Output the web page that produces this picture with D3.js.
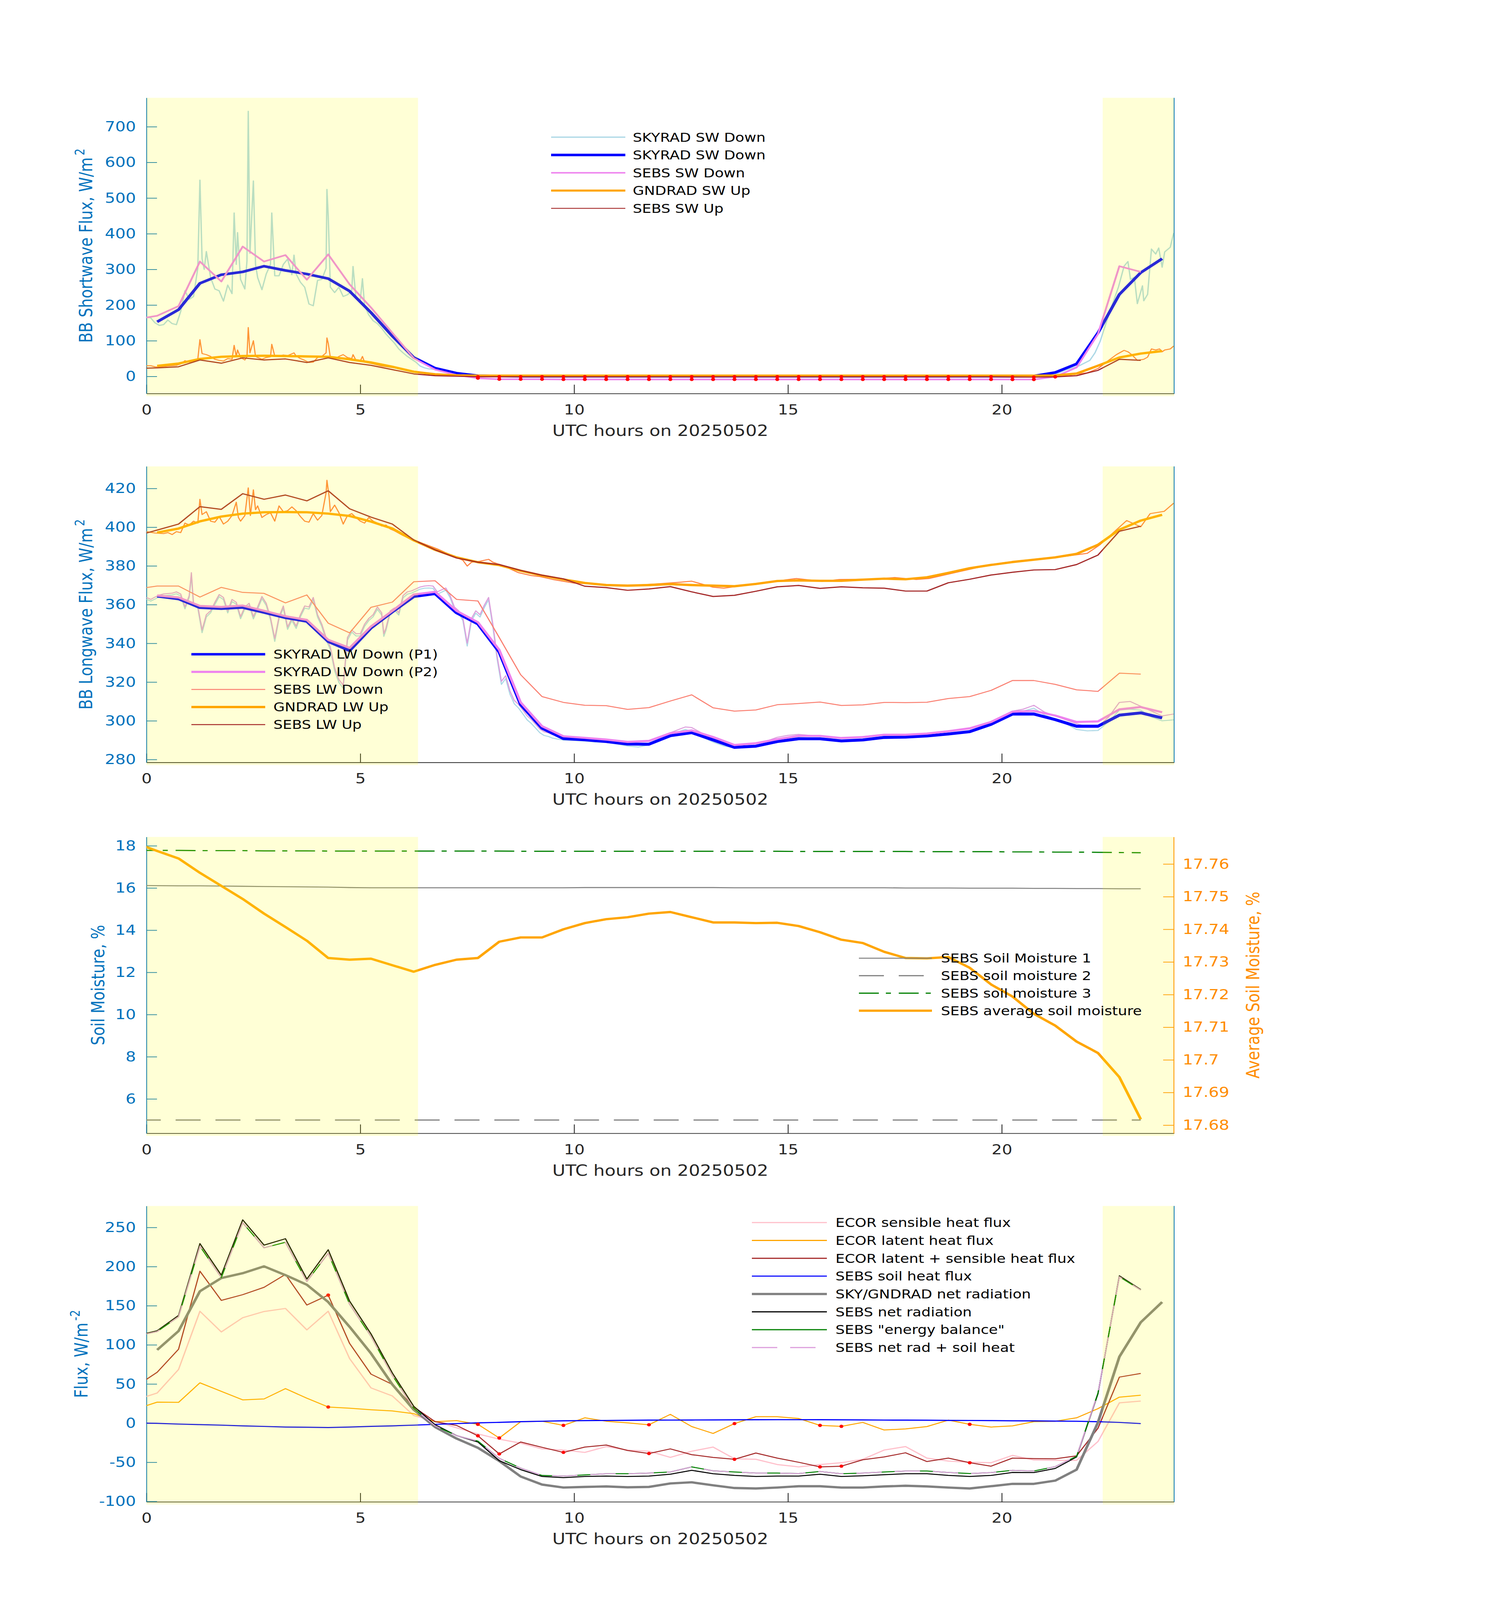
<!DOCTYPE html>
<html><head><meta charset="utf-8">
<script src="https://cdn.jsdelivr.net/npm/d3@7"></script>
<style>html,body{margin:0;padding:0;background:#fff;overflow:hidden}svg{display:block;width:100vw;height:100vh}</style>
</head><body>
<svg id="chart" viewBox="0 0 3825 4875" preserveAspectRatio="none"></svg>
<script>
// ---------------- DATA ----------------
const sebsTimes = d3.range(48).map(i => -0.25 + 0.5 * i);   // SEBS / ECOR half-hour stamps
const radTimes  = d3.range(48).map(i =>  0.25 + 0.5 * i);   // SKYRAD / GNDRAD half-hour averages
const xTicks = [0, 5, 10, 15, 20];
const dayShade = [[0, 6.35], [22.36, 24.03]];

// Panel 1 : shortwave
const skySwRaw = [[0,166],[0.1,164],[0.2,150],[0.3,143],[0.4,145],[0.5,158],[0.6,148],[0.7,145],[0.8,182],[0.9,240],[1.0,216],[1.1,224],[1.2,303],[1.25,550],[1.3,330],[1.35,300],[1.4,350],[1.5,277],[1.6,245],[1.7,240],[1.8,211],[1.9,256],[2.0,232],[2.05,458],[2.1,314],[2.13,403],[2.2,272],[2.3,245],[2.35,324],[2.38,743],[2.42,345],[2.5,548],[2.55,314],[2.6,277],[2.7,243],[2.8,287],[2.9,314],[2.93,458],[3.0,282],[3.1,282],[3.2,314],[3.3,329],[3.4,285],[3.45,340],[3.5,287],[3.6,264],[3.7,250],[3.8,203],[3.9,198],[4.0,269],[4.1,272],[4.2,303],[4.22,524],[4.25,450],[4.3,250],[4.4,235],[4.5,250],[4.6,224],[4.7,229],[4.8,240],[4.83,308],[4.9,219],[5.0,214],[5.05,274],[5.1,198],[5.2,172],[5.3,156],[5.4,148],[5.5,135],[5.6,119],[5.7,106],[5.8,93],[5.9,77],[6.0,66],[6.1,56],[6.2,48],[6.3,40],[6.4,29],[6.5,24],[6.6,21],[6.7,20],[6.8,19],[7.0,12],[7.5,4],[8.0,1],[12,0.5],[20.5,0.5],[21.0,3],[21.3,8],[21.5,18],[21.8,29],[22.06,45],[22.18,66],[22.3,98],[22.5,172],[22.73,251],[22.86,309],[22.95,322],[23.01,272],[23.1,278],[23.17,204],[23.29,254],[23.32,212],[23.41,230],[23.5,357],[23.6,343],[23.67,360],[23.75,306],[23.81,349],[23.94,362],[24.02,402]];
const gndSwRaw = [[0,30],[0.1,30],[0.2,27],[0.3,26],[0.5,29],[0.7,31],[0.8,35],[0.9,44],[1.0,40],[1.1,43],[1.2,48],[1.25,103],[1.3,64],[1.4,61],[1.5,56],[1.6,48],[1.7,45],[1.8,43],[1.9,50],[2.0,48],[2.05,87],[2.1,56],[2.13,74],[2.2,53],[2.3,46],[2.35,55],[2.38,137],[2.42,66],[2.5,100],[2.55,56],[2.6,53],[2.7,48],[2.8,53],[2.9,55],[2.93,90],[3.0,57],[3.1,56],[3.2,60],[3.3,58],[3.45,66],[3.5,57],[3.6,50],[3.7,45],[3.8,39],[3.9,40],[4.0,53],[4.1,56],[4.2,66],[4.22,108],[4.25,93],[4.3,53],[4.4,48],[4.5,56],[4.6,61],[4.7,53],[4.8,50],[4.83,61],[4.9,45],[5.0,43],[5.05,56],[5.1,40],[5.3,35],[5.5,29],[5.8,24],[6.0,19],[6.3,14],[6.6,8],[7.0,4],[7.5,2],[8.0,1],[12,1],[20.5,1],[21.5,3],[22.0,10],[22.25,22],[22.5,45],[22.68,61],[22.86,73],[22.95,69],[23.04,61],[23.17,45],[23.32,48],[23.41,54],[23.5,77],[23.6,74],[23.69,77],[23.75,69],[23.81,74],[23.94,77],[24.02,85]];
const skySwDown = [153,187,261,285,293,309,297,287,274,239,179,113,
  53,23,9,2,1,0.5,0.5,0.5,0.5,0.5,0.5,0.5,
  0.5,0.5,0.5,0.5,0.5,0.5,0.5,0.5,0.5,0.5,0.5,0.5,
  0.5,0.5,0.5,0.5,0.5,1,11,35,122,230,291,330];
const sebsSwDown = [160,170,197,322,266,364,322,340,271,342,258,193,
  122,51,19,4,-5,-8,-8,-8,-8.5,-8.5,-8.5,-8.5,
  -8.5,-8.5,-8.5,-8.5,-8.5,-8.5,-8.5,-8.5,-8.5,-8.5,-8.5,-8.5,
  -8.5,-8.5,-8.5,-8.5,-8.5,-8.7,-8.7,-1,25,119,309,293];
const gndSwUp = [29.5,36,49,55,57,58,57,56,55,48,39,27,
  13,6,3,2,2,2,2,2,2,2,2,2,
  2,2,2,2,2,2,2,2,2,2,2,2,
  2,2,2,2,2,2,2.6,8,30,53,64,71];
const sebsSwUp = [22,24,27,46,37,52,46,49,39,52,39,31,
  19,7,2,0.5,-1,-1,-1,-1,-1,-1,-1,-1,
  -1,-1,-1,-1,-1,-1,-1,-1,-1,-1,-1,-1,
  -1,-1,-1,-1,-1,-1.5,-2,-1.3,2,17,48,45];

// Panel 2 : longwave
const lwRawP2 = [[0,363.7],[0.1,362.7],[0.2,363.9],[0.3,364.9],[0.4,365.5],[0.5,365.7],[0.6,365.9],[0.7,366.6],[0.8,365.5],[0.9,358.8],[1.0,364.7],[1.05,376.5],[1.1,360.7],[1.2,359.3],[1.3,346.9],[1.4,354.8],[1.5,356.8],[1.6,361.2],[1.7,365.2],[1.8,363.7],[1.9,356.8],[2.0,362.7],[2.1,361.2],[2.2,353.8],[2.3,358.8],[2.4,360.7],[2.5,353.8],[2.6,358.8],[2.7,364.2],[2.8,360.7],[2.9,353.3],[3.0,342.5],[3.1,353.8],[3.2,359.3],[3.3,348.4],[3.4,352.9],[3.5,348.9],[3.6,354.8],[3.7,359.3],[3.8,358.8],[3.9,363.7],[4.0,354.8],[4.1,349.9],[4.2,343.0],[4.3,338.1],[4.4,327.3],[4.5,321.3],[4.6,318.4],[4.7,343.0],[4.8,346.9],[4.9,345.0],[5.0,345.0],[5.1,349.9],[5.2,352.9],[5.3,354.8],[5.4,358.8],[5.5,355.8],[5.55,345.0],[5.6,347.9],[5.7,356.8],[5.8,358.3],[5.9,355.8],[6.0,364.7],[6.1,366.6],[6.2,367.1],[6.3,368.1],[6.4,369.1],[6.5,369.6],[6.6,369.8],[6.7,369.6],[6.8,366.6],[6.9,367.6],[7.0,368.6],[7.1,364.7],[7.2,358.8],[7.3,356.8],[7.4,352.9],[7.5,340.1],[7.6,352.9],[7.7,356.8],[7.8,354.8],[7.9,359.7],[8.0,363.7],[8.1,349.9],[8.2,333.2],[8.3,320.4],[8.4,323.3],[8.5,315.4],[8.6,310.5],[8.7,308.5],[8.8,305.6],[8.9,302.6],[9.0,300.7],[9.1,298.2],[9.2,295.7],[9.3,294.3],[9.4,293.8],[9.5,292.8],[9.75,292.0],[10.0,291.2],[10.25,290.8],[10.5,290.5],[10.75,290.2],[11.0,289.5],[11.25,289.0],[11.5,289.5],[11.75,289.8],[12.0,291.5],[12.25,293.8],[12.5,296.0],[12.6,296.8],[12.75,296.5],[13.0,293.5],[13.25,291.0],[13.5,288.8],[13.75,287.5],[14.0,288.0],[14.25,288.5],[14.5,289.5],[14.75,291.5],[15.0,292.5],[15.25,293.0],[15.5,292.5],[15.75,292.0],[16.0,291.2],[16.25,291.0],[16.5,291.3],[16.75,291.8],[17.0,292.4],[17.25,292.9],[17.5,293.0],[17.75,293.0],[18.0,293.2],[18.25,293.6],[18.5,294.2],[18.75,294.8],[19.0,295.3],[19.25,296.0],[19.5,297.5],[19.75,299.5],[20.0,302.0],[20.25,305.0],[20.5,306.0],[20.75,308.0],[21.0,304.5],[21.25,302.5],[21.5,300.5],[21.75,298.5],[22.0,297.0],[22.25,297.0],[22.5,302.0],[22.75,309.5],[23.0,310.0],[23.25,307.5],[23.5,305.0],[23.75,302.5],[24.02,303.5]];
const lwRawP1 = [[0,362.8],[0.1,361.8],[0.2,362.9],[0.3,364.0],[0.4,364.5],[0.5,364.8],[0.6,365.0],[0.7,365.6],[0.8,364.5],[0.9,357.8],[1.0,363.7],[1.05,375.0],[1.1,359.6],[1.2,358.2],[1.3,345.5],[1.4,353.6],[1.5,355.8],[1.6,360.1],[1.7,364.1],[1.8,362.6],[1.9,355.7],[2.0,361.6],[2.1,360.2],[2.2,352.7],[2.3,357.8],[2.4,359.6],[2.5,352.6],[2.6,357.7],[2.7,363.1],[2.8,359.6],[2.9,352.2],[3.0,341.0],[3.1,352.7],[3.2,358.2],[3.3,347.2],[3.4,351.8],[3.5,347.7],[3.6,353.7],[3.7,358.2],[3.8,357.7],[3.9,362.6],[4.0,353.6],[4.1,348.7],[4.2,341.8],[4.3,336.8],[4.4,325.8],[4.5,319.8],[4.6,316.8],[4.7,341.6],[4.8,345.8],[4.9,343.8],[5.0,343.9],[5.1,348.8],[5.2,351.8],[5.3,353.7],[5.4,357.6],[5.5,354.6],[5.55,343.6],[5.6,346.7],[5.7,355.6],[5.8,357.2],[5.9,354.6],[6.0,363.5],[6.1,365.4],[6.2,366.0],[6.3,367.0],[6.4,368.0],[6.5,368.5],[6.6,368.6],[6.7,368.4],[6.8,365.4],[6.9,366.4],[7.0,367.5],[7.1,363.6],[7.2,357.6],[7.3,355.6],[7.4,351.7],[7.5,338.6],[7.6,351.6],[7.7,355.6],[7.8,353.6],[7.9,358.5],[8.0,362.5],[8.1,348.6],[8.2,331.8],[8.3,318.8],[8.4,321.8],[8.5,313.7],[8.6,308.8],[8.7,306.6],[8.8,303.6],[8.9,300.5],[9.0,298.6],[9.1,296.2],[9.2,293.8],[9.3,292.4],[9.4,291.9],[9.5,291.0],[9.75,290.0],[10.0,289.8],[10.25,289.5],[10.5,289.0],[10.75,288.8],[11.0,288.0],[11.25,287.0],[11.5,286.5],[11.75,287.5],[12.0,290.0],[12.25,292.5],[12.5,294.8],[12.6,295.5],[12.75,294.5],[13.0,291.5],[13.25,289.0],[13.5,287.0],[13.75,286.0],[14.0,286.5],[14.25,287.0],[14.5,288.3],[14.75,290.0],[15.0,291.0],[15.25,291.5],[15.5,291.0],[15.75,290.5],[16.0,289.8],[16.25,289.5],[16.5,289.8],[16.75,290.3],[17.0,291.0],[17.25,291.6],[17.5,291.8],[17.75,291.6],[18.0,291.8],[18.25,292.3],[18.5,292.8],[18.75,293.3],[19.0,294.0],[19.25,294.6],[19.5,296.0],[19.75,298.0],[20.0,300.5],[20.25,303.5],[20.5,305.0],[20.75,306.5],[21.0,303.0],[21.25,301.0],[21.5,298.5],[21.75,295.5],[22.0,294.8],[22.25,295.0],[22.5,299.5],[22.75,305.5],[23.0,306.0],[23.25,305.5],[23.5,302.0],[23.75,300.0],[24.02,300.5]];
const gndLwRaw = [[0,397.7],[0.2,397.0],[0.4,396.7],[0.5,397.2],[0.6,396.2],[0.7,397.7],[0.8,397.2],[0.9,402.1],[1.0,401.1],[1.1,403.1],[1.2,402.1],[1.25,414.4],[1.3,406.5],[1.4,408.0],[1.5,403.1],[1.6,402.6],[1.7,405.5],[1.8,401.6],[1.9,403.1],[2.0,406.0],[2.1,412.9],[2.15,405.0],[2.2,403.1],[2.3,406.0],[2.38,420.3],[2.43,406.0],[2.5,419.3],[2.55,409.0],[2.6,411.0],[2.7,405.0],[2.8,406.5],[2.9,407.5],[3.0,403.1],[3.1,411.0],[3.2,408.0],[3.3,408.5],[3.4,410.5],[3.5,408.5],[3.6,405.5],[3.7,403.1],[3.8,402.6],[3.9,407.0],[4.0,403.6],[4.1,406.0],[4.2,417.8],[4.22,424.2],[4.27,415.9],[4.3,408.0],[4.4,411.4],[4.5,407.5],[4.6,401.6],[4.7,406.0],[4.8,407.0],[4.9,405.0],[5.0,403.1],[5.1,402.1],[5.2,405.0],[5.3,403.1],[5.4,402.1],[5.5,400.6],[5.6,401.1],[5.7,399.1],[5.8,398.1],[6.0,395.7],[6.2,393.7],[6.5,391.3],[6.8,388.8],[7.0,386.8],[7.2,384.9],[7.4,382.9],[7.5,379.9],[7.6,381.9],[7.8,382.4],[8.0,383.4],[8.1,381.9],[8.3,380.4],[8.5,378.5],[8.7,376.5],[9.0,375.0],[9.2,374.5],[9.5,373.0],[10.0,371.1],[10.5,370.6],[11.0,369.8],[11.5,370.1],[12.0,370.8],[12.5,371.6],[12.75,372.1],[13.25,369.0],[13.5,368.5],[14.0,370.0],[14.5,371.5],[15.2,373.5],[15.8,372.0],[16.2,373.0],[17.0,373.2],[17.5,374.0],[18.0,373.0],[18.3,373.5],[19.0,377.0],[19.5,379.5],[20.0,381.5],[20.5,382.8],[21.0,384.0],[21.5,385.0],[22.0,386.5],[22.3,391.0],[22.6,397.0],[22.92,403.4],[23.25,400.2],[23.47,407.0],[23.8,408.2],[24.02,412.4]];
const skyLwDownP1 = [364.4,363.0,358.5,358.0,358.6,356.0,353.3,351.4,341.0,336.3,348.0,356.3,
  364.2,365.7,355.8,350.1,335.6,308.5,296.2,290.8,290.2,289.3,288.0,287.9,
  292.3,293.9,290.1,286.3,286.9,289.3,290.7,290.7,289.6,290.1,291.4,291.6,
  292.2,293.2,294.4,298.2,303.5,303.5,300.6,297.2,297.2,302.9,304.1,301.5];
const skyLwDownP2 = [364.7,363.7,359.3,358.8,359.5,356.8,354.0,352.1,341.8,337.6,348.7,356.8,
  365.2,366.6,356.8,350.9,336.6,309.5,297.2,292.0,291.2,290.3,289.1,289.6,
  293.6,295.0,291.6,287.5,288.4,290.5,292.2,292.2,291.1,291.6,292.8,292.8,
  293.4,294.6,296.1,299.4,304.7,305.1,302.7,299.4,299.7,305.9,307.1,304.4];
const sebsLwDown = [368.0,369.6,369.6,363.9,368.9,366.3,365.8,360.9,365.0,350.4,345.4,358.6,
  361.3,371.8,372.3,362.7,361.9,343.0,323.8,312.5,309.5,308.0,307.8,305.9,
  306.8,310.2,313.4,306.7,305.0,305.6,308.3,308.9,309.7,307.9,308.2,309.5,
  309.4,309.6,311.5,312.5,315.7,320.8,320.8,318.8,316.0,315.2,324.6,324.1];
const gndLwUp = [397.2,399.3,403.0,405.5,407.0,407.7,407.8,407.7,407.0,405.8,402.9,399.3,
  393.2,388.3,384.4,381.9,380.4,377.5,375.0,373.0,371.2,370.1,369.8,370.1,
  370.6,370.1,369.8,369.5,370.7,372.2,372.5,372.3,372.3,372.9,373.4,373.1,
  374.1,376.4,378.8,380.5,382.0,383.2,384.4,386.2,390.9,398.7,403.4,406.4];
const sebsLwUp = [395.5,398.5,401.6,410.6,409.2,417.3,414.4,416.6,413.6,418.8,409.5,405.2,
  401.6,393.4,388.3,384.1,381.9,380.7,377.7,375.2,373.3,369.5,368.8,367.4,
  368.1,369.3,366.6,364.2,364.8,366.9,369.2,369.9,368.4,369.2,368.7,368.5,
  367.0,367.0,371.3,373.1,375.3,376.7,377.9,378.1,380.7,385.6,397.9,400.5];

// Panel 3 : soil moisture
const soilMoist1 = [16.12,16.11,16.10,16.10,16.09,16.08,16.07,16.06,16.05,16.04,16.02,16.01,
  16.01,16.01,16.01,16.01,16.01,16.01,16.01,16.01,16.01,16.02,16.02,16.02,
  16.02,16.02,16.02,16.02,16.01,16.01,16.01,16.01,16.01,16.01,16.01,16.01,
  16.00,16.00,16.00,15.99,15.99,15.99,15.98,15.98,15.97,15.97,15.96,15.96];
const soilMoist2 = [5.00,5.00,5.00,5.00,5.00,5.00,5.00,5.00,5.00,5.00,5.00,5.00,
  5.00,5.00,5.00,5.00,5.00,5.00,5.00,5.00,5.00,5.00,5.00,5.00,
  5.00,5.00,5.00,5.00,5.00,5.00,5.00,5.00,5.00,5.00,5.00,5.00,
  5.00,5.00,5.00,5.00,5.00,5.00,5.00,5.00,5.00,5.00,5.00,5.00];
const soilMoist3 = [17.78,17.78,17.78,17.77,17.77,17.77,17.76,17.76,17.76,17.75,17.75,17.75,
  17.75,17.75,17.75,17.75,17.75,17.75,17.74,17.74,17.74,17.74,17.74,17.74,
  17.74,17.74,17.74,17.74,17.74,17.74,17.74,17.73,17.73,17.73,17.73,17.73,
  17.73,17.72,17.72,17.72,17.72,17.71,17.71,17.70,17.70,17.69,17.68,17.67];
const soilMoistAvg = [17.7664,17.7640,17.7617,17.7573,17.7533,17.7493,17.7448,17.7407,17.7365,17.7312,17.7307,17.7310,
  17.7290,17.7270,17.7291,17.7307,17.7312,17.7362,17.7375,17.7375,17.7400,17.7419,17.7431,17.7437,
  17.7448,17.7453,17.7437,17.7421,17.7421,17.7419,17.7420,17.7410,17.7391,17.7368,17.7358,17.7331,
  17.7312,17.7311,17.7315,17.7282,17.7231,17.7194,17.7141,17.7105,17.7056,17.7021,17.6947,17.6818];
const avgTicks = [17.68,17.69,17.70,17.71,17.72,17.73,17.74,17.75,17.76];
const avgTickLabels = ["17.68","17.69","17.7","17.71","17.72","17.73","17.74","17.75","17.76"];

// Panel 4 : fluxes
const ecorSensible = [29.7,38.5,68.5,142.9,116.5,134.7,142.6,146.5,119.1,142.9,82.4,45.0,
  34.7,9.7,2.4,-5.9,-13.8,-20.5,-25.6,-32.9,-34.4,-37.4,-30.0,-34.4,
  -35.9,-43.8,-35.9,-30.6,-45.6,-46.2,-52.9,-55.9,-52.9,-50.6,-46.2,-34.4,
  -30.0,-44.7,-48.5,-50.0,-50.6,-41.2,-47.1,-47.6,-47.6,-23.5,25.9,28.2];
const ecorLatent = [18.0,26.8,26.5,51.5,40.6,29.7,30.9,44.1,31.8,20.6,19.1,17.1,
  15.6,12.1,1.8,3.2,-1.5,-19.0,1.8,2.4,-2.9,6.8,2.4,0.3,
  -2.1,11.2,-4.4,-13.2,-0.6,8.2,8.2,5.9,-2.9,-4.1,0.9,-8.8,
  -7.4,-4.4,3.8,-1.5,-5.0,-3.5,1.8,2.4,6.8,18.5,33.2,35.6];
const ecorSum = [46.8,65.0,94.4,194.1,156.8,164.1,173.5,190.0,150.9,163.5,101.8,62.6,
  49.4,20.6,1.8,-2.9,-16.2,-39.4,-24.1,-30.9,-37.4,-30.6,-28.0,-35.0,
  -38.8,-32.9,-40.3,-43.8,-46.2,-38.2,-44.7,-50.0,-55.9,-55.0,-46.8,-43.2,
  -37.9,-49.1,-44.7,-50.6,-55.0,-44.7,-45.3,-45.6,-41.8,-6.5,58.8,63.5];
const ecorFlagTimes = [4.25,7.75,8.25,9.75,11.75,13.75,15.75,16.25,19.25];
const sebsSoilHeat = [0.3,-0.3,-1.2,-1.9,-2.6,-3.5,-4.2,-5.0,-5.3,-5.6,-5.0,-4.1,
  -3.5,-2.6,-1.6,-0.6,0.3,1.0,1.8,2.4,3.0,3.2,3.4,3.6,
  3.8,3.9,4.0,4.1,4.2,4.3,4.4,4.4,4.3,4.2,4.1,3.9,
  3.8,3.7,3.5,3.4,3.2,3.0,2.8,2.6,2.4,1.8,0.9,-0.6];
const skyGndNetRad = [93.5,117.6,168.5,185.3,191.5,200.3,189.1,176.8,154.7,123.0,89.1,49.4,
  17.1,-5.0,-19.7,-31.5,-48.4,-68.2,-78.5,-82.3,-81.5,-80.9,-82.0,-81.5,
  -77.1,-75.6,-79.4,-82.9,-83.5,-82.3,-80.6,-80.6,-82.3,-82.3,-80.9,-80.0,
  -80.9,-82.3,-83.5,-80.6,-77.6,-77.6,-73.5,-59.4,0.9,84.7,128.8,154.7];
const sebsNetRad = [111.4,118.0,137.6,229.4,189.1,259.7,227.4,235.6,184.1,221.5,155.9,114.1,
  64.1,21.5,-2.1,-15.9,-24.1,-48.0,-59.4,-68.2,-69.7,-68.2,-67.6,-68.2,
  -67.6,-65.3,-60.3,-64.7,-66.8,-68.2,-67.6,-67.6,-65.3,-68.2,-67.3,-65.9,
  -64.7,-64.7,-66.8,-68.2,-66.8,-63.0,-63.2,-57.9,-43.2,37.6,188.2,170.6];
const sebsEnergyBal = [111.0,117.0,136.0,226.0,186.0,256.0,224.0,231.0,181.0,217.0,152.0,111.0,
  61.0,19.0,-3.5,-16.0,-23.0,-45.0,-57.5,-66.8,-67.6,-66.2,-64.7,-64.7,
  -63.8,-62.4,-55.9,-60.9,-62.4,-63.8,-63.8,-64.4,-61.8,-64.7,-63.8,-62.4,
  -61.2,-61.2,-63.0,-64.4,-63.2,-60.3,-61.2,-55.6,-42.4,38.5,187.0,170.0];
const sebsNetPlusSoil = [111.0,117.0,136.0,226.0,186.0,256.0,224.0,231.0,181.0,217.0,152.0,111.0,
  61.0,19.0,-3.5,-16.0,-23.0,-45.0,-57.5,-66.8,-67.6,-66.2,-64.7,-64.7,
  -63.8,-62.4,-55.9,-60.9,-62.4,-63.8,-63.8,-64.4,-61.8,-64.7,-63.8,-62.4,
  -61.2,-61.2,-63.0,-64.4,-63.2,-60.3,-61.2,-55.6,-42.4,38.5,187.0,170.0];

// ---------------- DRAWING ----------------
const svg = d3.select('#chart');
svg.append('rect').attr('width', 3825).attr('height', 4875).attr('fill', '#fff');
const FONT = 'DejaVu Sans, Verdana, sans-serif';
const AXBLUE = '#0072bd', AXDARK = '#262626', AXORANGE = '#ff8c00';
const X0 = 375, X1 = 3006;
const x = d3.scaleLinear().domain([0, 24.03]).range([X0, X1]);
const zip = (t, v) => t.map((d, i) => [d, v[i]]);
let clipId = 0;

function makePanel(top, bottom, yDomain, yTicks, labelMain, labelSup, labelX) {
  const y = d3.scaleLinear().domain(yDomain).range([bottom, top]);
  const g = svg.append('g');
  const id = 'clip' + (clipId++);
  svg.append('clipPath').attr('id', id).append('rect')
    .attr('x', X0).attr('y', top).attr('width', X1 - X0).attr('height', bottom - top);
  const xa = g.append('g').attr('transform', `translate(0,${bottom})`)
    .call(d3.axisBottom(x).tickValues(xTicks).tickSizeInner(-27).tickSizeOuter(0).tickPadding(34).tickFormat(d => String(d)));
  xa.select('.domain').attr('stroke', AXDARK).attr('stroke-width', 2.2);
  xa.selectAll('.tick line').attr('stroke', AXDARK).attr('stroke-width', 2.2);
  xa.selectAll('.tick text').attr('fill', AXDARK).attr('font-size', 41.7).attr('font-family', FONT);
  const ya = g.append('g').attr('transform', `translate(${X0},0)`)
    .call(d3.axisLeft(y).tickValues(yTicks).tickSizeInner(-27).tickSizeOuter(0).tickPadding(27).tickFormat(d => String(d)));
  ya.select('.domain').attr('stroke', AXBLUE).attr('stroke-width', 2.2);
  ya.selectAll('.tick line').attr('stroke', AXBLUE).attr('stroke-width', 2.2);
  ya.selectAll('.tick text').attr('fill', AXBLUE).attr('font-size', 41.7).attr('font-family', FONT);
  svg.append('text').attr('x', (X0 + X1) / 2).attr('y', bottom + 129)
    .attr('text-anchor', 'middle').attr('font-size', 45.8).attr('font-family', FONT).attr('fill', AXDARK)
    .text('UTC hours on 20250502');
  const yl = svg.append('text')
    .attr('transform', `translate(${labelX},${(top + bottom) / 2}) rotate(-90)`)
    .attr('text-anchor', 'middle').attr('font-size', 45.8).attr('font-family', FONT).attr('fill', AXBLUE);
  yl.append('tspan').text(labelMain);
  if (labelSup) yl.append('tspan').attr('dx', 6).attr('dy', -20).attr('font-size', 33).text(labelSup);
  const data = svg.append('g').attr('clip-path', `url(#${id})`);
  return { y, top, bottom, data };
}

function line(p, pts, color, width, dash, yS) {
  const ys = yS || p.y;
  const path = p.data.append('path').datum(pts)
    .attr('fill', 'none').attr('stroke', color).attr('stroke-width', width)
    .attr('stroke-linejoin', 'round')
    .attr('d', d3.line().x(d => x(d[0])).y(d => ys(d[1])));
  if (dash) path.attr('stroke-dasharray', dash);
  return path;
}
function dots(p, pts, yS) {
  const ys = yS || p.y;
  p.data.selectAll(null).data(pts).enter().append('circle')
    .attr('cx', d => x(d[0])).attr('cy', d => ys(d[1])).attr('r', 5).attr('fill', '#ff0000');
}
function rightEdge(p, color) {
  svg.append('line').attr('x1', X1).attr('x2', X1).attr('y1', p.top).attr('y2', p.bottom)
    .attr('stroke', color).attr('stroke-width', 2.2);
}
function shade(p) {
  dayShade.forEach(s => {
    svg.append('rect').attr('x', x(s[0])).attr('y', p.top)
      .attr('width', x(s[1]) - x(s[0])).attr('height', p.bottom - p.top + 8)
      .attr('fill', '#ffff00').attr('fill-opacity', 0.16);
  });
}
function legend(x1, x2, tx, y0, dy, items) {
  items.forEach((it, i) => {
    const yy = y0 + i * dy;
    const l = svg.append('line').attr('x1', x1).attr('x2', x2).attr('y1', yy).attr('y2', yy)
      .attr('stroke', it.c).attr('stroke-width', it.w);
    if (it.d) l.attr('stroke-dasharray', it.d);
    svg.append('text').attr('x', tx).attr('y', yy).attr('dy', '0.36em')
      .attr('font-size', 37.5).attr('font-family', FONT).attr('fill', '#000').text(it.t);
  });
}

// ---- Panel 1 ----
const p1 = makePanel(298, 1199, [-48, 781], [0,100,200,300,400,500,600,700], 'BB Shortwave Flux, W/m', '2', 236);
line(p1, skySwRaw, '#add8e6', 3.5);
line(p1, zip(radTimes, skySwDown), '#0000ff', 8);
line(p1, zip(sebsTimes, sebsSwDown), '#ee82ee', 5);
line(p1, gndSwRaw, '#ff8040', 3);
line(p1, zip(radTimes, gndSwUp), '#ffa500', 7);
line(p1, zip(sebsTimes, sebsSwUp), '#a52a2a', 3.5);
dots(p1, zip(sebsTimes, sebsSwDown).filter(d => d[1] < 0));
dots(p1, zip(sebsTimes, sebsSwUp).filter(d => d[1] < 0));
rightEdge(p1, AXBLUE);
shade(p1);
legend(1411, 1601, 1620, 418, 54.2, [
  { t: 'SKYRAD SW Down', c: '#add8e6', w: 3.8 },
  { t: 'SKYRAD SW Down', c: '#0000ff', w: 7.7 },
  { t: 'SEBS SW Down', c: '#ee82ee', w: 4.5 },
  { t: 'GNDRAD SW Up', c: '#ffa500', w: 6.4 },
  { t: 'SEBS SW Up', c: '#a52a2a', w: 2.8 }]);

// ---- Panel 2 ----
const p2 = makePanel(1421, 2323, [278.5, 431.4], [280,300,320,340,360,380,400,420], 'BB Longwave Flux, W/m', '2', 236);
line(p2, lwRawP1, '#add8e6', 3);
line(p2, lwRawP2, '#dda0dd', 3);
line(p2, gndLwRaw, '#ff8040', 3);
line(p2, zip(radTimes, skyLwDownP1), '#0000ff', 9);
line(p2, zip(radTimes, skyLwDownP2), '#ee82ee', 6.5);
line(p2, zip(sebsTimes, sebsLwDown), '#fa8072', 3);
line(p2, zip(radTimes, gndLwUp), '#ffa500', 7);
line(p2, zip(sebsTimes, sebsLwUp), '#a52a2a', 3.5);
rightEdge(p2, AXBLUE);
shade(p2);
legend(490, 679, 700, 1993.5, 53.6, [
  { t: 'SKYRAD LW Down (P1)', c: '#0000ff', w: 7.5 },
  { t: 'SKYRAD LW Down (P2)', c: '#ee82ee', w: 6.5 },
  { t: 'SEBS LW Down', c: '#fa8072', w: 3 },
  { t: 'GNDRAD LW Up', c: '#ffa500', w: 7 },
  { t: 'SEBS LW Up', c: '#a52a2a', w: 3 }]);

// ---- Panel 3 ----
const p3 = makePanel(2550, 3453, [4.37, 18.42], [6,8,10,12,14,16,18], 'Soil Moisture, %', null, 267);
const yR = d3.scaleLinear().domain([17.6775, 17.7683]).range([3453, 2550]);
const ra = svg.append('g').attr('transform', `translate(3005,0)`)
  .call(d3.axisRight(yR).tickValues(avgTicks).tickSizeInner(-27).tickSizeOuter(0).tickPadding(23)
    .tickFormat((d, i) => avgTickLabels[i]));
ra.select('.domain').attr('stroke', AXORANGE).attr('stroke-width', 2.2);
ra.selectAll('.tick line').attr('stroke', AXORANGE).attr('stroke-width', 2.2);
ra.selectAll('.tick text').attr('fill', AXORANGE).attr('font-size', 41.7).attr('font-family', FONT);
svg.append('text').attr('transform', `translate(3224,3001.5) rotate(-90)`)
  .attr('text-anchor', 'middle').attr('font-size', 45.8).attr('font-family', FONT).attr('fill', AXORANGE)
  .text('Average Soil Moisture, %');
line(p3, zip(sebsTimes, soilMoist1), '#808080', 3);
line(p3, zip(sebsTimes, soilMoist2), '#808080', 3.5, '64 38');
line(p3, zip(sebsTimes, soilMoist3), '#008000', 3.5, '51 18 13 20');
line(p3, zip(sebsTimes, soilMoistAvg), '#ffa500', 7, null, yR);
shade(p3);
legend(2199, 2386, 2409, 2919.5, 53.3, [
  { t: 'SEBS Soil Moisture 1', c: '#808080', w: 3 },
  { t: 'SEBS soil moisture 2', c: '#808080', w: 3.5, d: '64 38' },
  { t: 'SEBS soil moisture 3', c: '#008000', w: 3.5, d: '51 18 13 20' },
  { t: 'SEBS average soil moisture', c: '#ffa500', w: 7 }]);

// ---- Panel 4 ----
const p4 = makePanel(3674.5, 4576, [-100.6, 277.4], [-100,-50,0,50,100,150,200,250], 'Flux, W/m', '-2', 224);
line(p4, zip(sebsTimes, ecorSensible), '#ffc0cb', 3.5);
line(p4, zip(sebsTimes, ecorLatent), '#ffa500', 3);
line(p4, zip(sebsTimes, ecorSum), '#a52a2a', 3);
line(p4, zip(sebsTimes, sebsSoilHeat), '#0000ff', 3.5);
line(p4, zip(radTimes, skyGndNetRad), '#808080', 7);
line(p4, zip(sebsTimes, sebsNetRad), '#000000', 3);
line(p4, zip(sebsTimes, sebsEnergyBal), '#008000', 3);
line(p4, zip(sebsTimes, sebsNetPlusSoil), '#dda0dd', 3, '65 33');
dots(p4, zip(sebsTimes, ecorLatent).filter(d => ecorFlagTimes.includes(d[0])));
dots(p4, zip(sebsTimes, ecorSum).filter(d => ecorFlagTimes.includes(d[0])));
rightEdge(p4, AXBLUE);
shade(p4);
legend(1925, 2117, 2139, 3725, 54.4, [
  { t: 'ECOR sensible heat flux', c: '#ffc0cb', w: 3.5 },
  { t: 'ECOR latent heat flux', c: '#ffa500', w: 3.5 },
  { t: 'ECOR latent + sensible heat flux', c: '#a52a2a', w: 3.5 },
  { t: 'SEBS soil heat flux', c: '#0000ff', w: 3.5 },
  { t: 'SKY/GNDRAD net radiation', c: '#808080', w: 7 },
  { t: 'SEBS net radiation', c: '#000000', w: 3.5 },
  { t: 'SEBS "energy balance"', c: '#008000', w: 3.5 },
  { t: 'SEBS net rad + soil heat', c: '#dda0dd', w: 3.5, d: '65 33' }]);
</script>
</body></html>
